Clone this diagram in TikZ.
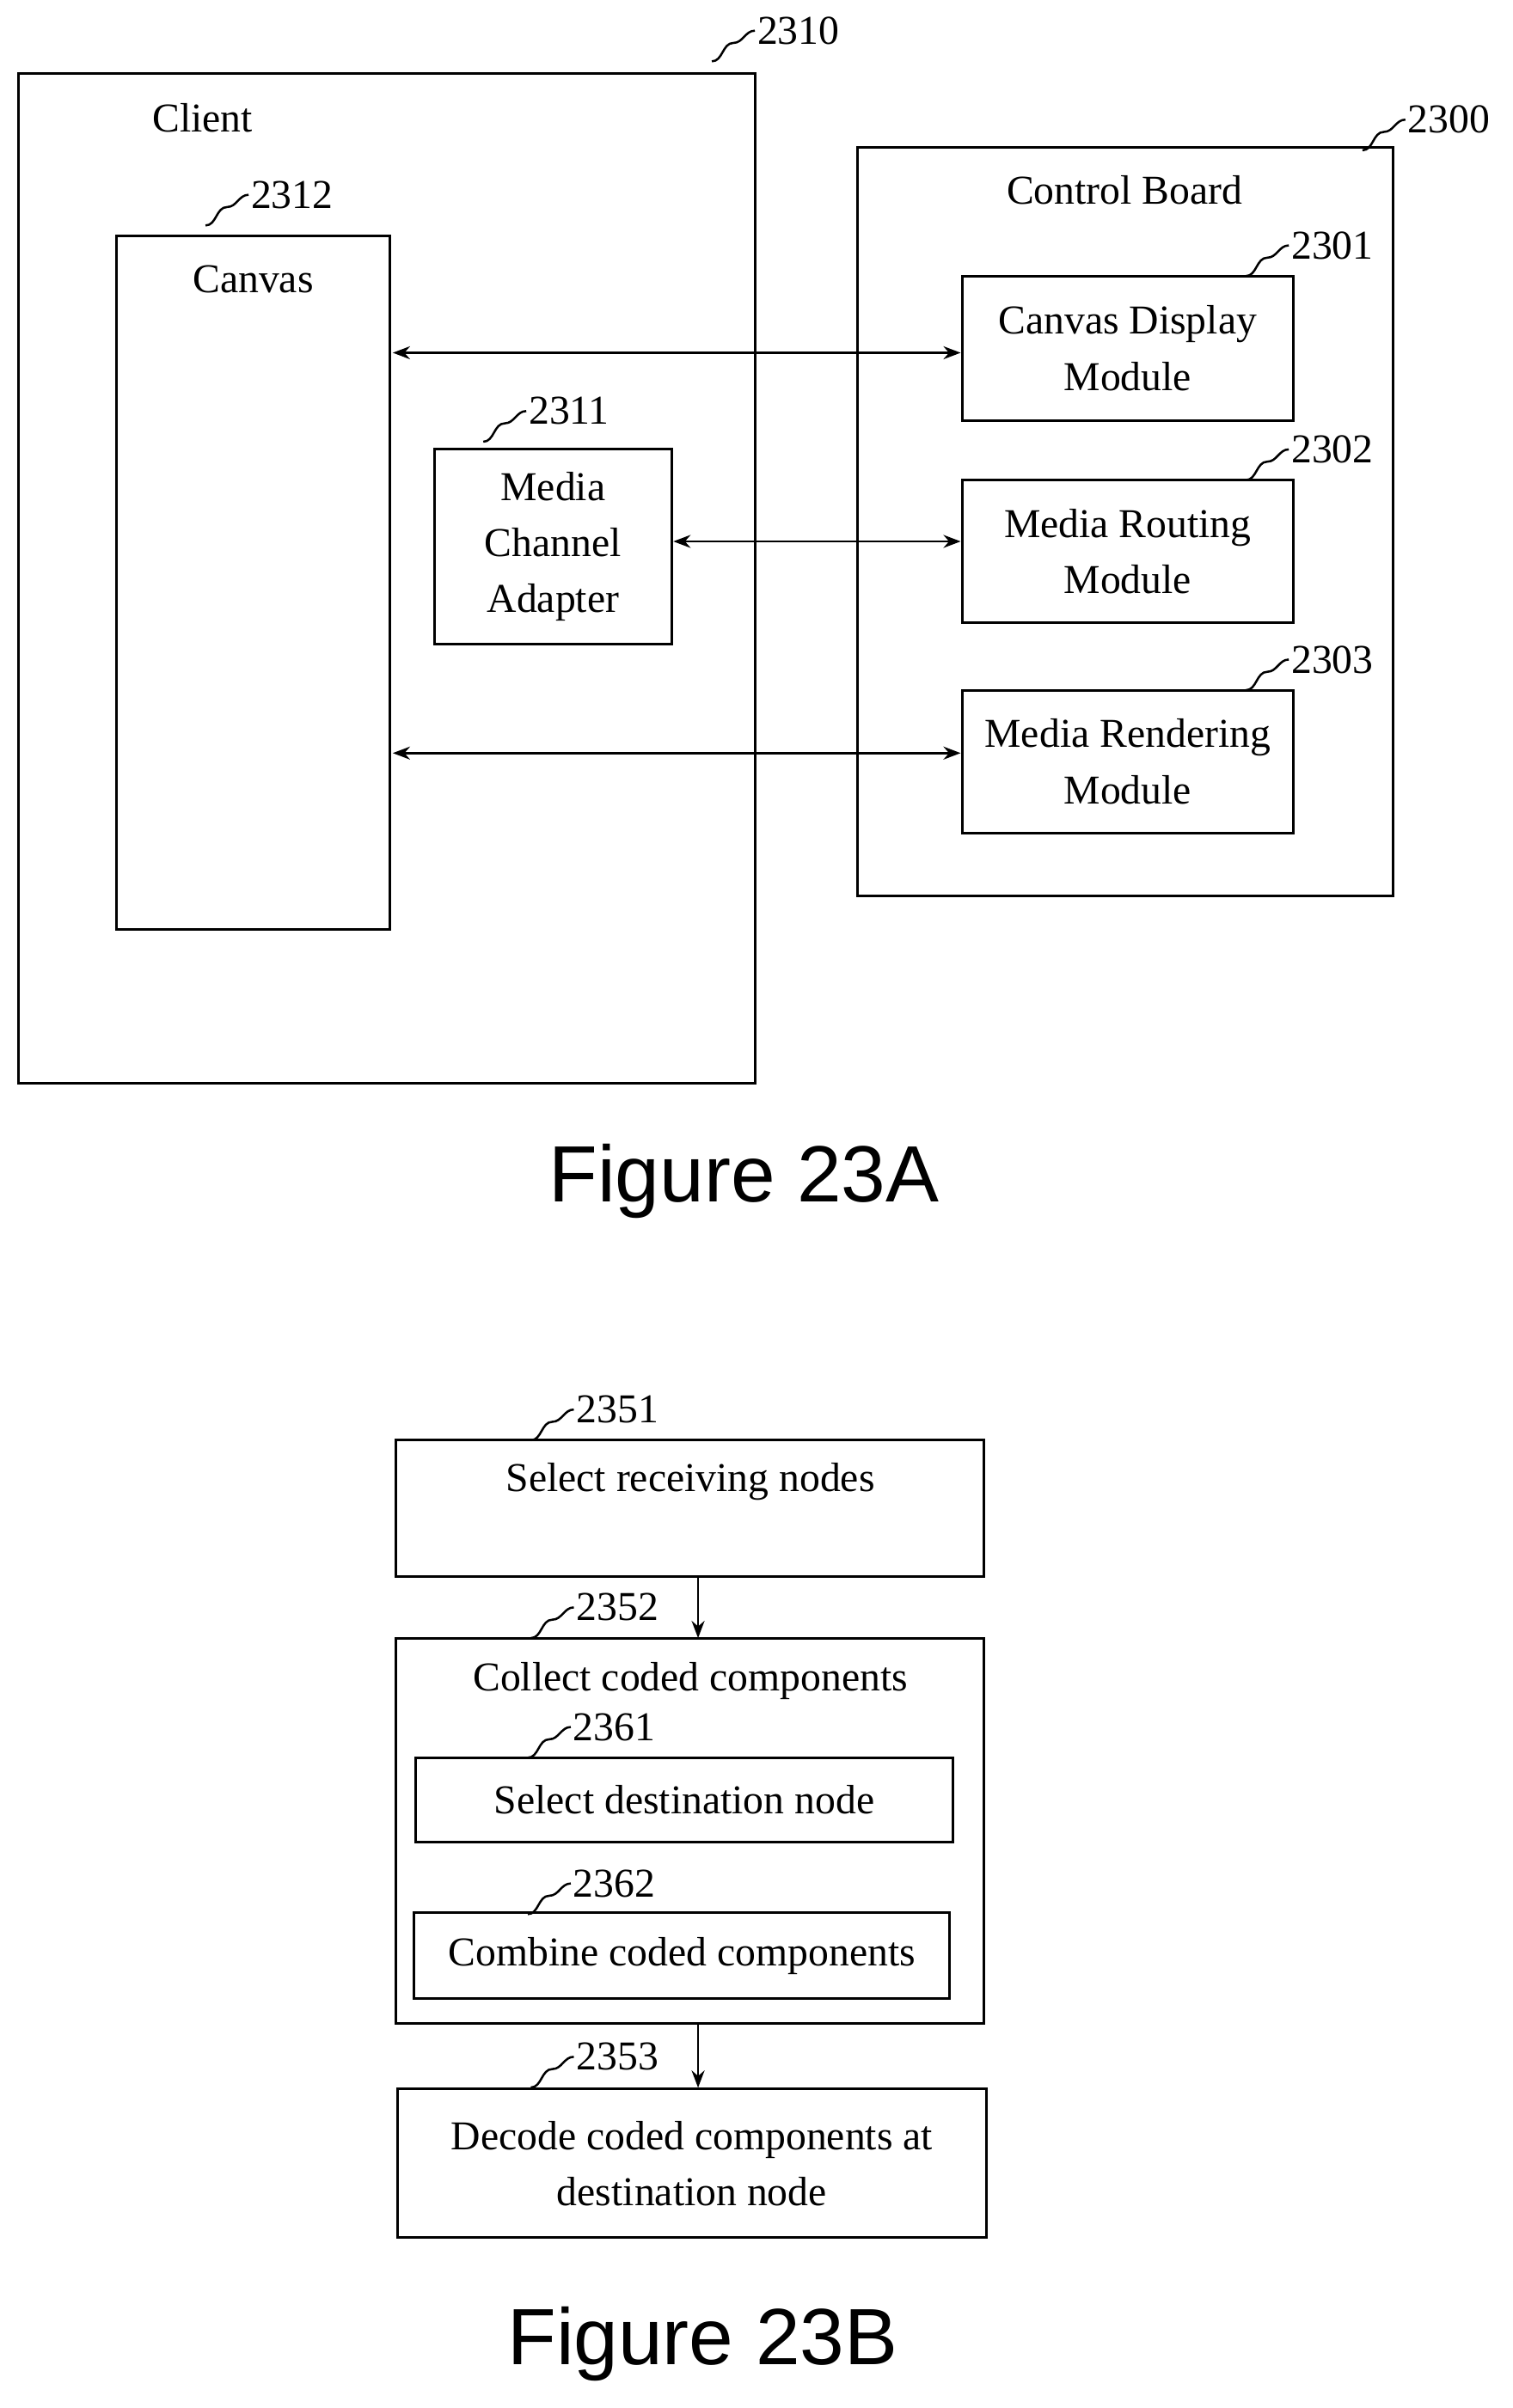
\documentclass[tikz,border=0pt]{standalone}
\usepackage{fontspec}
\setmainfont{Liberation Serif}
\newfontfamily\capfont{Liberation Sans}
\usetikzlibrary{positioning,arrows.meta}
\tikzset{
  box/.style={draw, line width=1.2pt},
  txt/.style={align=center, font=\fontsize{19}{26}\selectfont},
  refno/.style={anchor=west, inner sep=1pt, font=\fontsize{19}{23}\selectfont},
  squig/.style={line width=1pt},
  link/.style={line width=1pt, {Stealth[length=8pt,width=6pt]}-{Stealth[length=8pt,width=6pt]}},
  flow/.style={line width=1pt, -{Stealth[length=8pt,width=6pt]}},
  figcap/.style={font=\capfont\fontsize{37}{42}\selectfont}
}
% reference number with its little wave
\newcommand{\refnum}[4]{%
  \node[refno] (#1) at (#2,#3) {#4};
  \draw[squig] (#1.west) to[out=180,in=0] ++(-14,8) to[out=180,in=0] ++(-14,12);
}
\begin{document}
\begin{tikzpicture}[x=0.025cm,y=-0.025cm]
  \useasboundingbox (0,0) rectangle (986,1570);
  % Figure 23A
  \draw[box] (12,48) rectangle (492,706);
  \node[txt] (client) at (132,77) {Client};
  \refnum{n2310}{492}{20}{2310}
  \draw[box] (76,154) rectangle (254,606);
  \node[txt] (canvas) at (165,182) {Canvas};
  \refnum{n2312}{162}{127}{2312}
  \node[box, txt, minimum width=155*0.025cm, minimum height=127*0.025cm, inner sep=0pt] (mca) at (360.5,356.5) {Media\\Channel\\Adapter};
  \refnum{n2311}{343}{268}{2311}
  \draw[box] (559,96) rectangle (908,584);
  \node[txt] (board) at (733,124) {Control Board};
  \refnum{n2300}{916}{78}{2300}
  \node[box, txt, minimum width=216*0.025cm, minimum height=94*0.025cm, inner sep=0pt] (cdm) at (735,227) {Canvas Display\\Module};
  \refnum{n2301}{840}{160}{2301}
  \node[box, txt, minimum width=216*0.025cm, minimum height=93*0.025cm, inner sep=0pt] (mrm) at (735,359.5) {Media Routing\\Module};
  \refnum{n2302}{840}{293}{2302}
  \node[box, txt, minimum width=216*0.025cm, minimum height=93*0.025cm, inner sep=0pt] (mren) at (735,496.5) {Media Rendering\\Module};
  \refnum{n2303}{840}{430}{2303}
  \coordinate (c1) at (256,230);
  \coordinate (c2) at (256,491);
  \draw[link] (c1) -- (cdm.west |- c1);
  \draw[link] (mca.east |- 0,353) -- (mrm.west |- 0,353);
  \draw[link] (c2) -- (mren.west |- c2);
  \node[figcap] (capa) at (485,770) {Figure 23A};
  % Figure 23B
  \node[box, txt, minimum width=383*0.025cm, minimum height=89*0.025cm, inner sep=0pt] (s2351) at (449.5,983.5) {};
  \node[txt] at (450,966) {Select receiving nodes};
  \refnum{n2351}{374}{919}{2351}
  \draw[box] (258,1068) rectangle (641,1319);
  \node[txt] (collect) at (450,1096) {Collect coded components};
  \refnum{n2352}{374}{1048}{2352}
  \node[box, txt, minimum width=350*0.025cm, minimum height=55*0.025cm, inner sep=0pt] (s2361) at (446,1173.5) {Select destination node};
  \refnum{n2361}{372}{1126}{2361}
  \node[box, txt, minimum width=349*0.025cm, minimum height=56*0.025cm, inner sep=0pt] (s2362) at (444.5,1275) {Combine coded components};
  \refnum{n2362}{372}{1228}{2362}
  \node[box, txt, minimum width=384*0.025cm, minimum height=97*0.025cm, inner sep=0pt] (s2353) at (451,1410.5) {Decode coded components at\\destination node};
  \refnum{n2353}{374}{1341}{2353}
  \coordinate (b1) at (455,1068);
  \coordinate (b2) at (455,1319);
  \draw[flow] (s2351.south -| b1) -- (b1);
  \draw[flow] (b2) -- (s2353.north -| b2);
  \node[figcap] (capb) at (458,1528) {Figure 23B};
\end{tikzpicture}
\end{document}
